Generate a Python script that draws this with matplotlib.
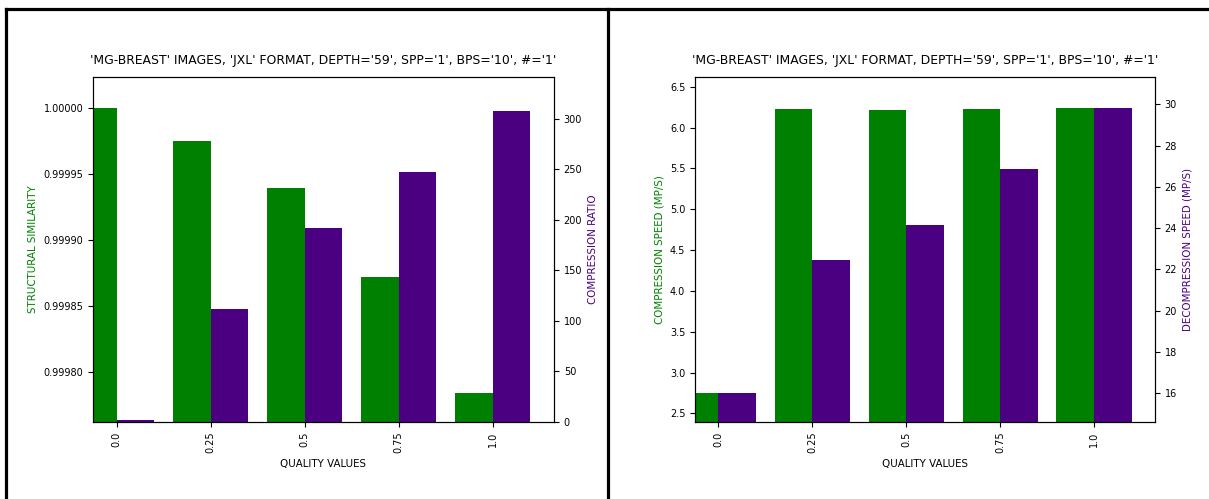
import matplotlib
matplotlib.use("Agg")
import matplotlib.pyplot as plt
from matplotlib.lines import Line2D
import numpy as np

quality_labels = ["0.0", "0.25", "0.5", "0.75", "1.0"]
ssim = [1.00000, 0.999975, 0.999939, 0.999872, 0.999784]
compression_ratio = [2, 112, 192, 247.5, 308]
compression_speed = [2.745, 6.225, 6.215, 6.225, 6.235]
decompression_speed = [16.0, 22.45, 24.15, 26.86, 29.82]

ssim_lim = (0.999762, 1.0000235)
ratio_lim = (0, 341.5)
cspeed_lim = (2.394, 6.62)
dspeed_lim = (14.61, 31.32)

title = "'MG-BREAST' IMAGES, 'JXL' FORMAT, DEPTH='59', SPP='1', BPS='10', #='1'"
GREEN = "green"
PURPLE = "indigo"
W = 0.4
FS_TITLE = 8.9
FS_TICK = 7.0
FS_LABEL = 7.4

fig = plt.figure(figsize=(12.09, 4.99), dpi=100)


def panel(rect, left_vals, right_vals, left_label, right_label, llim, rlim):
    ax = fig.add_axes(rect)
    x = np.arange(len(quality_labels))
    ax.bar(x - W / 2, left_vals, width=W, color=GREEN)
    ax.set_ylim(*llim)
    ax.set_ylabel(left_label, color=GREEN, fontsize=FS_LABEL)
    ax.set_xlabel("QUALITY VALUES", fontsize=FS_LABEL)
    ax.tick_params(labelsize=FS_TICK)
    ax2 = ax.twinx()
    ax2.bar(x + W / 2, right_vals, width=W, color=PURPLE)
    ax2.set_ylim(*rlim)
    ax2.set_ylabel(right_label, color=PURPLE, fontsize=FS_LABEL)
    ax2.tick_params(labelsize=FS_TICK)
    ax.set_xlim(-0.25, len(quality_labels) - 1 + 0.65)
    ax.set_xticks(x)
    ax.set_xticklabels(quality_labels, rotation=90, fontsize=FS_TICK)
    ax.set_title(title, fontsize=FS_TITLE, pad=9.5)
    return ax, ax2


a1, a1b = panel([93 / 1209, 77 / 499, 461 / 1209, 345 / 499], ssim, compression_ratio,
                "STRUCTURAL SIMILARITY", "COMPRESSION RATIO", ssim_lim, ratio_lim)
a1.yaxis.set_major_formatter(matplotlib.ticker.FormatStrFormatter("%.5f"))
a1.set_yticks([0.9998, 0.99985, 0.9999, 0.99995, 1.0])

a2, a2b = panel([695 / 1209, 77 / 499, 460 / 1209, 345 / 499], compression_speed, decompression_speed,
                "COMPRESSION SPEED (MP/S)", "DECOMPRESSION SPEED (MP/S)", cspeed_lim, dspeed_lim)

# panel frames (black borders)
lw = 2.3
fy = 1 - 8.5 / 499
fig.add_artist(Line2D([6 / 1209, 1], [fy, fy], color="black", lw=lw, transform=fig.transFigure))
fig.add_artist(Line2D([6 / 1209, 6 / 1209], [0, fy], color="black", lw=lw, transform=fig.transFigure))
fig.add_artist(Line2D([608 / 1209, 608 / 1209], [0, fy], color="black", lw=lw, transform=fig.transFigure))

fig.savefig("out.png", dpi=100)
